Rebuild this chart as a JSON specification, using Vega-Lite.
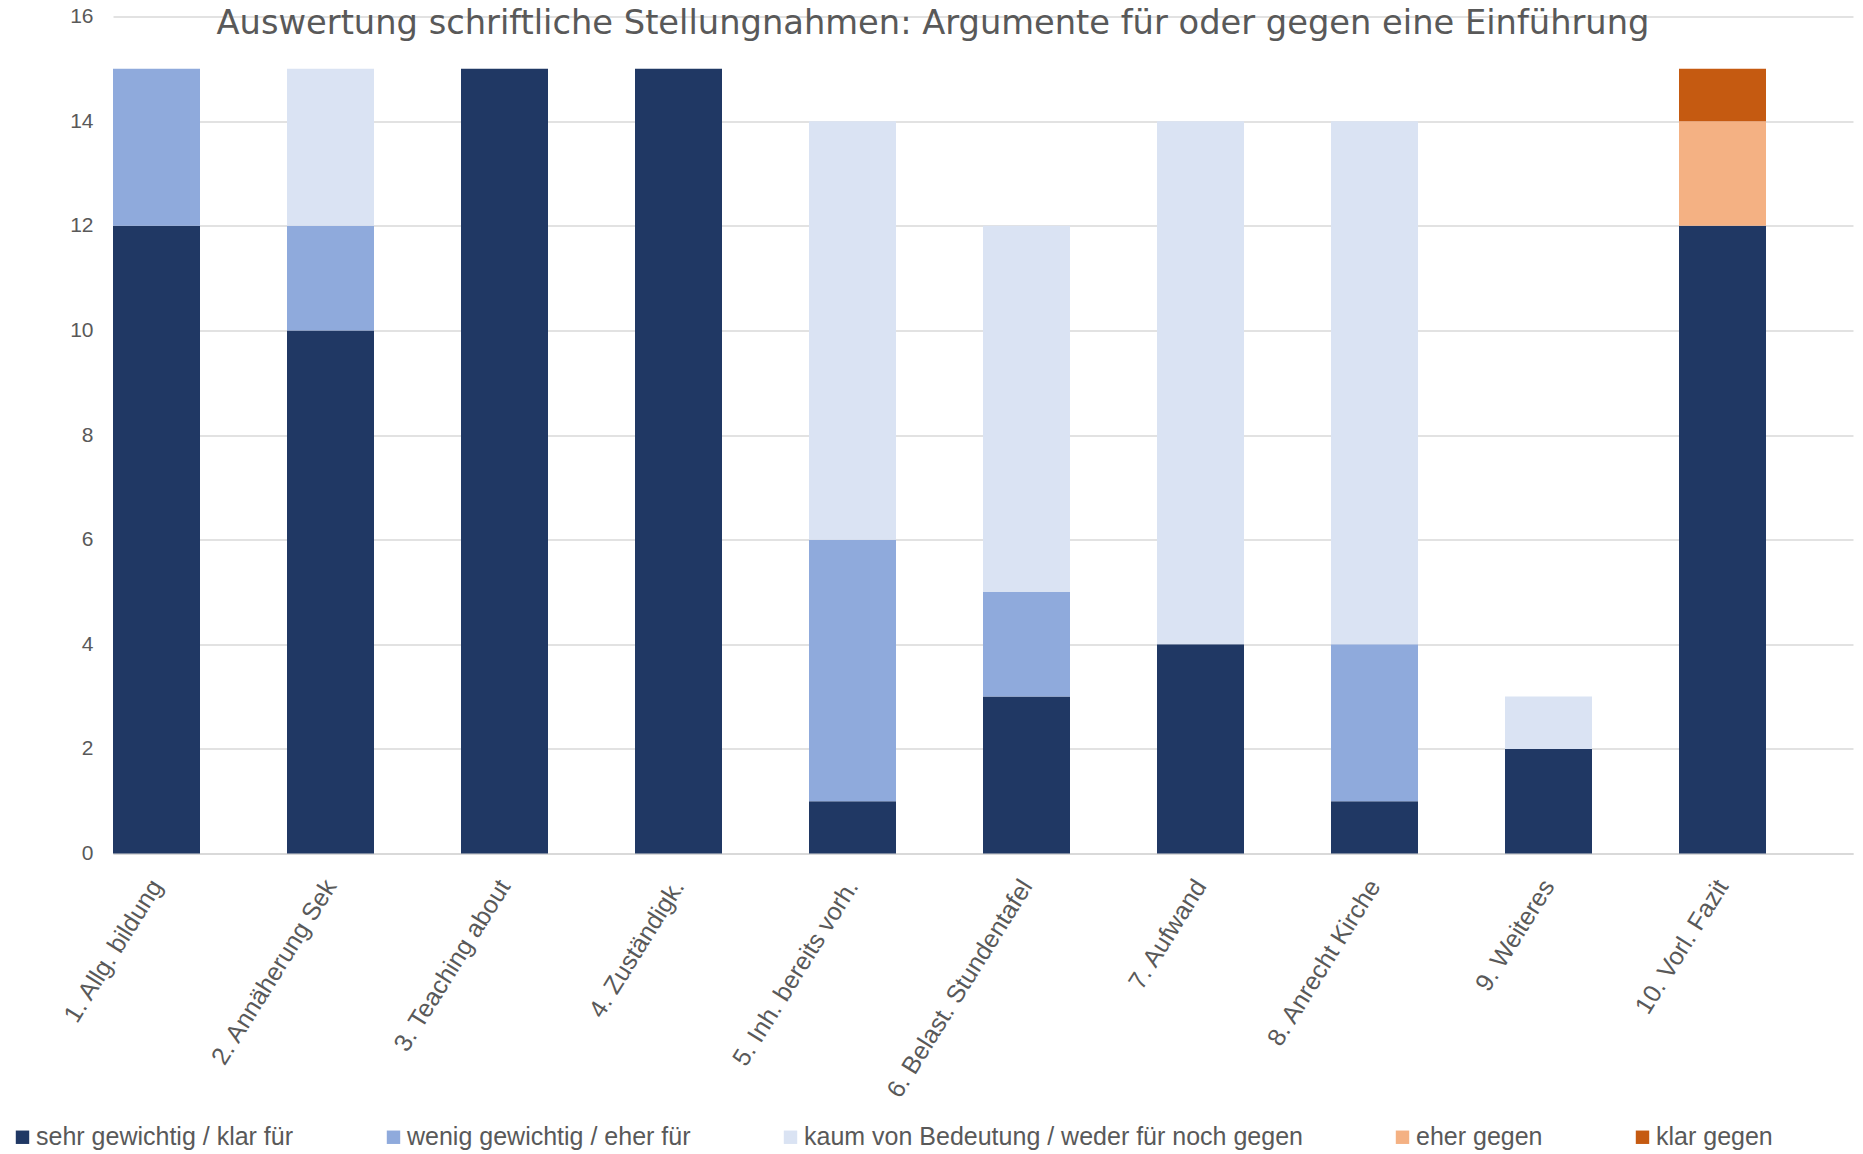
{
  "$schema": "https://vega.github.io/schema/vega-lite/v6.json",
  "width": 1740,
  "height": 837,
  "autosize": "none",
  "padding": {"left": 113, "top": 16.5, "right": 10, "bottom": 300.5},
  "background": "white",
  "title": {
    "text": "Auswertung schriftliche Stellungnahmen: Argumente für oder gegen eine Einführung",
    "font": "DejaVu Sans",
    "fontSize": 33.7,
    "fontWeight": "normal",
    "color": "#595959",
    "anchor": "middle",
    "dx": -50,
    "dy": 62,
    "offset": 0,
    "baseline": "alphabetic"
  },
  "config": {
    "view": {"stroke": null},
    "font": "Liberation Sans"
  },
  "data": {
    "values": [
      {"kategorie": "1. Allg. bildung", "bewertung": "sehr gewichtig / klar für", "k": 1, "anzahl": 12},
      {"kategorie": "1. Allg. bildung", "bewertung": "wenig gewichtig / eher für", "k": 2, "anzahl": 3},
      {"kategorie": "2. Annäherung Sek", "bewertung": "sehr gewichtig / klar für", "k": 1, "anzahl": 10},
      {"kategorie": "2. Annäherung Sek", "bewertung": "wenig gewichtig / eher für", "k": 2, "anzahl": 2},
      {"kategorie": "2. Annäherung Sek", "bewertung": "kaum von Bedeutung / weder für noch gegen", "k": 3, "anzahl": 3},
      {"kategorie": "3. Teaching about", "bewertung": "sehr gewichtig / klar für", "k": 1, "anzahl": 15},
      {"kategorie": "4. Zuständigk.", "bewertung": "sehr gewichtig / klar für", "k": 1, "anzahl": 15},
      {"kategorie": "5. Inh. bereits vorh.", "bewertung": "sehr gewichtig / klar für", "k": 1, "anzahl": 1},
      {"kategorie": "5. Inh. bereits vorh.", "bewertung": "wenig gewichtig / eher für", "k": 2, "anzahl": 5},
      {"kategorie": "5. Inh. bereits vorh.", "bewertung": "kaum von Bedeutung / weder für noch gegen", "k": 3, "anzahl": 8},
      {"kategorie": "6. Belast. Stundentafel", "bewertung": "sehr gewichtig / klar für", "k": 1, "anzahl": 3},
      {"kategorie": "6. Belast. Stundentafel", "bewertung": "wenig gewichtig / eher für", "k": 2, "anzahl": 2},
      {"kategorie": "6. Belast. Stundentafel", "bewertung": "kaum von Bedeutung / weder für noch gegen", "k": 3, "anzahl": 7},
      {"kategorie": "7. Aufwand", "bewertung": "sehr gewichtig / klar für", "k": 1, "anzahl": 4},
      {"kategorie": "7. Aufwand", "bewertung": "kaum von Bedeutung / weder für noch gegen", "k": 3, "anzahl": 10},
      {"kategorie": "8. Anrecht Kirche", "bewertung": "sehr gewichtig / klar für", "k": 1, "anzahl": 1},
      {"kategorie": "8. Anrecht Kirche", "bewertung": "wenig gewichtig / eher für", "k": 2, "anzahl": 3},
      {"kategorie": "8. Anrecht Kirche", "bewertung": "kaum von Bedeutung / weder für noch gegen", "k": 3, "anzahl": 10},
      {"kategorie": "9. Weiteres", "bewertung": "sehr gewichtig / klar für", "k": 1, "anzahl": 2},
      {"kategorie": "9. Weiteres", "bewertung": "kaum von Bedeutung / weder für noch gegen", "k": 3, "anzahl": 1},
      {"kategorie": "10. Vorl. Fazit", "bewertung": "sehr gewichtig / klar für", "k": 1, "anzahl": 12},
      {"kategorie": "10. Vorl. Fazit", "bewertung": "eher gegen", "k": 4, "anzahl": 2},
      {"kategorie": "10. Vorl. Fazit", "bewertung": "klar gegen", "k": 5, "anzahl": 1}
    ]
  },
  "mark": {"type": "bar"},
  "encoding": {
    "x": {
      "field": "kategorie",
      "type": "nominal",
      "sort": null,
      "title": null,
      "scale": {"paddingInner": 0.5, "paddingOuter": 0.25, "align": 0},
      "axis": {
        "domainColor": "#D9D9D9",
        "domainWidth": 2,
        "ticks": false,
        "labelAngle": -58,
        "labelAlign": "right",
        "labelBaseline": "middle",
        "labelFontSize": 25,
        "labelColor": "#595959",
        "labelPadding": 28,
        "labelLimit": 0,
        "labelFont": "Liberation Sans"
      }
    },
    "y": {
      "field": "anzahl",
      "type": "quantitative",
      "stack": "zero",
      "title": null,
      "scale": {"domain": [0, 16], "nice": false},
      "axis": {
        "values": [0, 2, 4, 6, 8, 10, 12, 14, 16],
        "domain": false,
        "ticks": false,
        "grid": true,
        "gridColor": "#D9D9D9",
        "gridWidth": 1.5,
        "labelFontSize": 21,
        "labelColor": "#595959",
        "labelPadding": 20,
        "labelFont": "Liberation Sans"
      }
    },
    "color": {
      "field": "bewertung",
      "type": "nominal",
      "title": null,
      "scale": {
        "domain": ["sehr gewichtig / klar für", "wenig gewichtig / eher für", "kaum von Bedeutung / weder für noch gegen", "eher gegen", "klar gegen"],
        "range": ["#203864", "#8FAADC", "#DAE3F3", "#F4B183", "#C55A11"]
      },
      "legend": {
        "orient": "none",
        "legendX": -103,
        "legendY": 1108,
        "direction": "horizontal",
        "columns": 5,
        "columnPadding": 87,
        "symbolType": "square",
        "symbolSize": 180,
        "symbolStrokeWidth": 0,
        "labelFontSize": 25,
        "labelColor": "#595959",
        "labelOffset": 1,
        "labelFont": "Liberation Sans",
        "labelLimit": 0
      }
    },
    "order": {"field": "k", "type": "quantitative"}
  }
}
